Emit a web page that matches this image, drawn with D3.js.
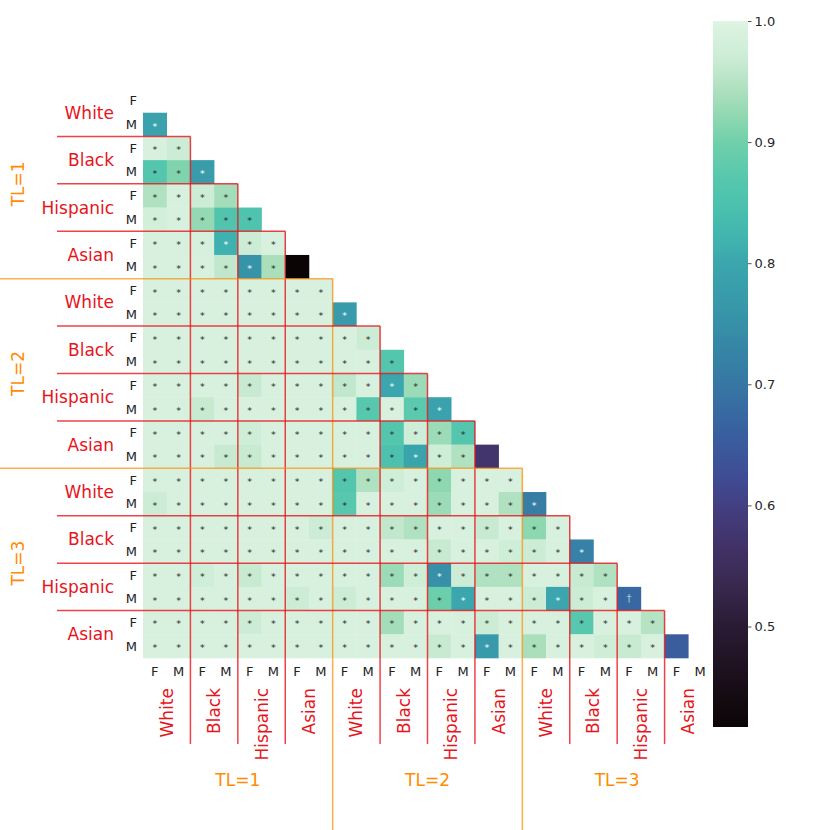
<!DOCTYPE html>
<html>
<head>
<meta charset="utf-8">
<script src="https://d3js.org/d3.v7.min.js"></script>
<style>
  html, body { margin: 0; padding: 0; background: #fff; }
  svg { display: block; font-family: "DejaVu Sans", sans-serif; }
</style>
</head>
<body>
<svg id="chart" width="830" height="830"></svg>
<script>
// groups along each axis: TL level > race > sex
const levels = ["TL=1", "TL=2", "TL=3"];
const races = ["White", "Black", "Hispanic", "Asian"];
const sexes = ["F", "M"];

// lower triangle, row i holds columns 0 .. i-1
const values = [
  [],
  [0.79],
  [0.99, 0.97],
  [0.865, 0.91, 0.775],
  [0.945, 0.99, 0.97, 0.935],
  [0.98, 0.99, 0.925, 0.86, 0.855],
  [0.99, 0.99, 0.985, 0.815, 0.97, 0.99],
  [0.99, 0.99, 0.99, 0.96, 0.755, 0.94, 0.417],
  [0.99, 0.99, 0.99, 0.99, 0.99, 0.99, 0.99, 0.99],
  [0.99, 0.99, 0.99, 0.99, 0.99, 0.99, 0.99, 0.99, 0.77],
  [0.99, 0.99, 0.99, 0.99, 0.99, 0.99, 0.99, 0.99, 0.99, 0.97],
  [0.99, 0.99, 0.99, 0.99, 0.99, 0.99, 0.99, 0.99, 0.99, 0.99, 0.865],
  [0.99, 0.99, 0.99, 0.99, 0.965, 0.99, 0.99, 0.99, 0.96, 0.99, 0.80, 0.93],
  [0.99, 0.99, 0.965, 0.99, 0.99, 0.99, 0.99, 0.99, 0.99, 0.87, 0.99, 0.875, 0.79],
  [0.99, 0.99, 0.99, 0.99, 0.975, 0.99, 0.99, 0.99, 0.99, 0.99, 0.865, 0.975, 0.93, 0.865],
  [0.99, 0.99, 0.99, 0.965, 0.965, 0.99, 0.99, 0.99, 0.99, 0.99, 0.85, 0.795, 0.975, 0.945, 0.575],
  [0.99, 0.99, 0.99, 0.99, 0.99, 0.99, 0.99, 0.99, 0.865, 0.945, 0.975, 0.99, 0.92, 0.99, 0.99, 0.99],
  [0.97, 0.99, 0.99, 0.99, 0.99, 0.99, 0.99, 0.99, 0.87, 0.99, 0.99, 0.99, 0.93, 0.99, 0.99, 0.945, 0.715],
  [0.99, 0.99, 0.99, 0.99, 0.99, 0.99, 0.99, 0.97, 0.99, 0.99, 0.96, 0.945, 0.99, 0.99, 0.965, 0.99, 0.92, 0.99],
  [0.99, 0.99, 0.99, 0.99, 0.99, 0.99, 0.99, 0.99, 0.99, 0.99, 0.99, 0.99, 0.965, 0.99, 0.99, 0.975, 0.97, 0.99, 0.72],
  [0.99, 0.99, 0.975, 0.99, 0.965, 0.99, 0.99, 0.99, 0.99, 0.99, 0.93, 0.975, 0.75, 0.97, 0.945, 0.945, 0.99, 0.99, 0.965, 0.945],
  [0.99, 0.99, 0.99, 0.99, 0.99, 0.99, 0.97, 0.99, 0.97, 0.99, 0.99, 0.99, 0.895, 0.80, 0.99, 0.99, 0.97, 0.80, 0.97, 0.99, 0.675],
  [0.99, 0.99, 0.99, 0.99, 0.97, 0.99, 0.99, 0.99, 0.99, 0.99, 0.935, 0.99, 0.99, 0.99, 0.97, 0.99, 0.99, 0.99, 0.87, 0.99, 0.99, 0.95],
  [0.99, 0.99, 0.99, 0.99, 0.99, 0.99, 0.99, 0.99, 0.99, 0.99, 0.99, 0.99, 0.965, 0.99, 0.77, 0.99, 0.94, 0.99, 0.99, 0.975, 0.965, 0.99, 0.655]
];

// significance marks, one character per cell (space = no mark)
const marks = [
  "",
  "*",
  "**",
  "***",
  "****",
  "*****",
  "******",
  "****** ",
  "********",
  "*********",
  "**********",
  "***********",
  "************",
  "*************",
  "**************",
  "************** ",
  "****************",
  "*****************",
  "******************",
  "*******************",
  "********************",
  "********************\u2020",
  "**********************",
  "********************** "
];

const colorTicks = [0.5, 0.6, 0.7, 0.8, 0.9, 1.0];
const vmin = 0.417, vmax = 1.0;

// mako-like ramp
const rampStops = [0.417, 0.456, 0.5, 0.538, 0.566, 0.6, 0.621, 0.663, 0.7, 0.735, 0.762, 0.8, 0.817, 0.845, 0.872, 0.9, 0.919, 0.941, 0.969, 1.0];
const rampColors = ["#0b0405", "#1a0f1a", "#2a1b34", "#3a2a52", "#413267", "#433f82", "#3f4b92", "#3861a0", "#3677a3", "#3688a6", "#3797a9", "#3ba6ad", "#40b2af", "#4ac0ae", "#58c8ad", "#70d0ab", "#8cd7b0", "#acdfbd", "#cbecd4", "#def4e4"];

const RED = "#e8141c", ORANGE = "#ff8c00";

const n = levels.length * races.length * sexes.length;
const gridLeft = 143, gridTop = 89, gridSize = 569;

const svg = d3.select("#chart");

const x = d3.scaleBand().domain(d3.range(n)).range([gridLeft, gridLeft + gridSize]);
const y = d3.scaleBand().domain(d3.range(n)).range([gridTop, gridTop + gridSize]);
const color = d3.scaleLinear().domain(rampStops).range(rampColors).interpolate(d3.interpolateRgb).clamp(true);

// seaborn style contrast rule for annotations
function textColor(c) {
  const rgb = d3.rgb(c);
  const lin = v => { v /= 255; return v <= 0.03928 ? v / 12.92 : Math.pow((v + 0.055) / 1.055, 2.4); };
  const lum = 0.2126 * lin(rgb.r) + 0.7152 * lin(rgb.g) + 0.0722 * lin(rgb.b);
  return lum < 0.408 ? "#fff" : "#262626";
}

const cells = [];
values.forEach((row, i) => row.forEach((v, j) => cells.push({ i, j, v, m: marks[i][j].trim() })));

const cellG = svg.append("g").attr("class", "cells");
cellG.selectAll("rect")
  .data(cells)
  .enter()
  .append("rect")
  .attr("x", d => x(d.j))
  .attr("y", d => y(d.i))
  .attr("width", x.bandwidth() + 0.3)
  .attr("height", y.bandwidth() + 0.3)
  .attr("fill", d => color(d.v));

cellG.selectAll("text")
  .data(cells.filter(d => d.m))
  .enter()
  .append("text")
  .attr("x", d => x(d.j) + x.bandwidth() / 2)
  .attr("y", d => y(d.i) + y.bandwidth() / 2 + (d.m === "*" ? 5 : 3.5))
  .attr("text-anchor", "middle")
  .attr("font-size", d => d.m === "*" ? 9.5 : 10)
  .attr("fill", d => textColor(color(d.v)))
  .attr("fill-opacity", d => d.m === "*" ? 1 : 0.6)
  .text(d => d.m);

// group boundaries
const lineG = svg.append("g").attr("class", "bounds");
const perLevel = races.length * sexes.length;
for (let k = sexes.length; k < n; k += sexes.length) {
  const isLevel = k % perLevel === 0;
  const pos = x(k);
  const ypos = y(k);
  lineG.append("line")
    .attr("x1", isLevel ? 0 : 57).attr("x2", pos)
    .attr("y1", ypos).attr("y2", ypos)
    .attr("stroke", isLevel ? ORANGE : RED)
    .attr("stroke-opacity", isLevel ? 0.7 : 0.8)
    .attr("stroke-width", 1.5);
  lineG.append("line")
    .attr("x1", pos).attr("x2", pos)
    .attr("y1", ypos).attr("y2", isLevel ? 830 : 744)
    .attr("stroke", isLevel ? ORANGE : RED)
    .attr("stroke-opacity", isLevel ? 0.7 : 0.8)
    .attr("stroke-width", 1.5);
}

// tick labels
const labelG = svg.append("g").attr("class", "labels");
d3.range(n).forEach(k => {
  const s = sexes[k % sexes.length];
  labelG.append("text")
    .attr("x", 137).attr("y", y(k) + y.bandwidth() / 2)
    .attr("text-anchor", "end").attr("dominant-baseline", "central")
    .attr("font-size", 13).attr("fill", "#222").text(s);
  labelG.append("text")
    .attr("x", x(k) + x.bandwidth() / 2).attr("y", 671)
    .attr("text-anchor", "middle").attr("dominant-baseline", "central")
    .attr("font-size", 13).attr("fill", "#222").text(s);
});

const pair = x.bandwidth() * sexes.length;
levels.forEach((lvl, li) => {
  races.forEach((r, ri) => {
    const k = li * perLevel + ri * sexes.length;
    labelG.append("text")
      .attr("x", 114).attr("y", y(k) + pair / 2)
      .attr("text-anchor", "end").attr("dominant-baseline", "central")
      .attr("font-size", 17).attr("fill", RED).text(r);
    const cx = x(k) + pair / 2;
    labelG.append("text")
      .attr("transform", `translate(${cx},688) rotate(-90)`)
      .attr("text-anchor", "end").attr("dominant-baseline", "central")
      .attr("font-size", 17).attr("fill", RED).text(r);
  });
  const mid = y(li * perLevel) + x.bandwidth() * perLevel / 2;
  labelG.append("text")
    .attr("transform", `translate(18,${mid}) rotate(-90)`)
    .attr("text-anchor", "middle").attr("dominant-baseline", "central")
    .attr("font-size", 17).attr("fill", ORANGE).text(lvl);
  const midx = x(li * perLevel) + x.bandwidth() * perLevel / 2;
  labelG.append("text")
    .attr("x", midx).attr("y", 780)
    .attr("text-anchor", "middle").attr("dominant-baseline", "central")
    .attr("font-size", 17).attr("fill", ORANGE).text(lvl);
});

// colour bar
const cbX = 713, cbW = 35, cbTop = 21, cbBottom = 727;
const cbScale = d3.scaleLinear().domain([vmin, vmax]).range([cbBottom, cbTop]);
const defs = svg.append("defs");
const grad = defs.append("linearGradient").attr("id", "cbGrad")
  .attr("x1", 0).attr("y1", 1).attr("x2", 0).attr("y2", 0);
rampStops.forEach((s, i) => {
  grad.append("stop")
    .attr("offset", (s - vmin) / (vmax - vmin))
    .attr("stop-color", rampColors[i]);
});
svg.append("rect")
  .attr("x", cbX).attr("y", cbTop)
  .attr("width", cbW).attr("height", cbBottom - cbTop)
  .attr("fill", "url(#cbGrad)");

const cbAxis = svg.append("g")
  .attr("transform", `translate(${cbX + cbW},0)`)
  .call(d3.axisRight(cbScale).tickValues(colorTicks).tickFormat(d3.format(".1f")).tickSize(3.5).tickPadding(3));
cbAxis.select(".domain").remove();
cbAxis.selectAll("line").attr("stroke", "#262626").attr("stroke-width", 0.8);
cbAxis.selectAll("text").attr("font-size", 13).attr("fill", "#262626").attr("font-family", "DejaVu Sans, sans-serif");
</script>
</body>
</html>
